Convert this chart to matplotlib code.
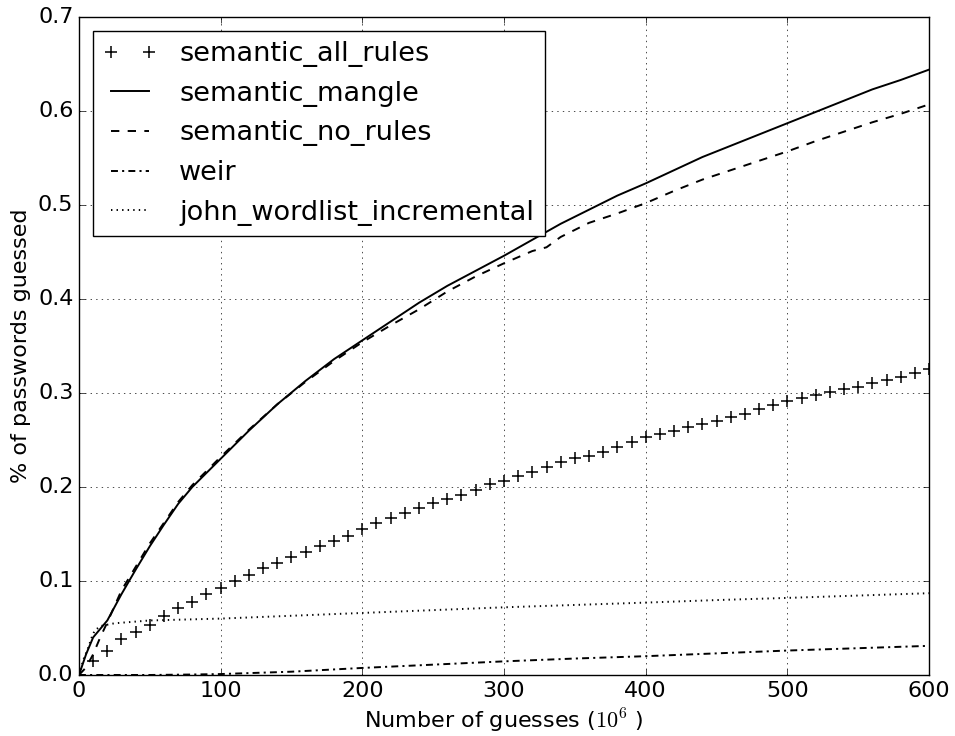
import matplotlib
matplotlib.use("Agg")
import matplotlib.pyplot as plt

plt.style.use("classic")

# ── data (x in 10^6 guesses, y in %) ─────────────────────────────────────────
all_rules_x = list(range(0, 601, 10))
all_rules_y = [
    0.0, 0.0152, 0.0259, 0.0383, 0.0461, 0.0532, 0.0631, 0.0709, 0.0780, 0.0862,
    0.0930, 0.1003, 0.1064, 0.1135, 0.1188, 0.1252, 0.1305, 0.1372, 0.1426, 0.1479,
    0.1550, 0.1614, 0.1673, 0.1727, 0.1773, 0.1827, 0.1869, 0.1912, 0.1968, 0.2032,
    0.2067, 0.2120, 0.2163, 0.2216, 0.2262, 0.2305, 0.2333, 0.2376, 0.2429, 0.2482,
    0.2529, 0.2561, 0.2599, 0.2635, 0.2670, 0.2706, 0.2741, 0.2777, 0.2826, 0.2872,
    0.2915, 0.2943, 0.2979, 0.3014, 0.3043, 0.3067, 0.3103, 0.3138, 0.3174, 0.3210,
    0.3252,
]

mangle_x = [0, 5, 10, 20, 30, 40, 50, 60, 70, 80, 90, 100, 120, 140, 160, 180,
            200, 220, 240, 260, 280, 300, 320, 340, 360, 380, 400, 420, 440,
            460, 480, 500, 520, 540, 560, 580, 600]
mangle_y = [0.0, 0.022, 0.040, 0.058, 0.086, 0.112, 0.137, 0.160, 0.182, 0.200,
            0.215, 0.230, 0.260, 0.288, 0.313, 0.336, 0.356, 0.376, 0.396, 0.414,
            0.430, 0.446, 0.463, 0.480, 0.495, 0.510, 0.523, 0.537, 0.551, 0.563,
            0.575, 0.587, 0.599, 0.611, 0.623, 0.633, 0.644]

no_rules_x = [0, 5, 10, 15, 20, 30, 40, 50, 60, 70, 80, 90, 100, 120, 140, 160,
              180, 200, 220, 240, 260, 280, 300, 320, 330, 340, 360, 380, 400,
              420, 440, 460, 480, 500, 520, 540, 560, 580, 600]
no_rules_y = [0.0, 0.008, 0.022, 0.040, 0.056, 0.090, 0.115, 0.140, 0.162, 0.184,
              0.202, 0.217, 0.232, 0.261, 0.288, 0.312, 0.334, 0.354, 0.372, 0.389,
              0.408, 0.424, 0.438, 0.451, 0.455, 0.466, 0.481, 0.491, 0.502, 0.515,
              0.527, 0.537, 0.547, 0.557, 0.568, 0.578, 0.588, 0.597, 0.607]

weir_x = [0, 50, 80, 100, 150, 200, 250, 300, 350, 400, 450, 500, 550, 600]
weir_y = [0.0, 0.0, 0.0005, 0.001, 0.0035, 0.0075, 0.011, 0.0145, 0.0175, 0.020,
          0.023, 0.026, 0.0285, 0.031]

john_x = [0, 3, 6, 9, 11, 15, 25, 50, 100, 150, 200, 250, 300, 350, 400, 450,
          500, 550, 600]
john_y = [0.0, 0.016, 0.027, 0.040, 0.047, 0.052, 0.055, 0.058, 0.060, 0.063,
          0.066, 0.069, 0.072, 0.0745, 0.077, 0.0797, 0.082, 0.0845, 0.087]

x_ticks = [0, 100, 200, 300, 400, 500, 600]
y_ticks = [0.0, 0.1, 0.2, 0.3, 0.4, 0.5, 0.6, 0.7]

# ── figure ────────────────────────────────────────────────────────────────────
fig = plt.figure(figsize=(9.55, 7.36), dpi=100, facecolor="white")
ax = fig.add_axes([0.0827, 0.0829, 0.8901, 0.894])

ax.plot(all_rules_x, all_rules_y, "k+", markersize=9, markeredgewidth=1.1,
        label="semantic_all_rules")
ax.plot(mangle_x, mangle_y, "k-", linewidth=1.4, label="semantic_mangle")
ax.plot(no_rules_x, no_rules_y, "k--", linewidth=1.4, label="semantic_no_rules")
ax.plot(weir_x, weir_y, "k-.", linewidth=1.4, dashes=(5, 3, 1.5, 3), label="weir")
ax.plot(john_x, john_y, "k:", linewidth=1.4, label="john_wordlist_incremental")

ax.set_xlim(0, 600)
ax.set_ylim(0, 0.7)
ax.set_xticks(x_ticks)
ax.set_yticks(y_ticks)
ax.tick_params(labelsize=16)
ax.grid(True, color="k", linestyle=":")

ax.set_xlabel(r"Number of guesses ($10^6$ )", fontsize=16)
ax.set_ylabel("% of passwords guessed", fontsize=16)

ax.legend(loc="upper left", fontsize=19.5, numpoints=2, labelspacing=0.5,
          handlelength=2.0, fancybox=False, frameon=True)

fig.savefig("out.png", dpi=100, facecolor="white")
